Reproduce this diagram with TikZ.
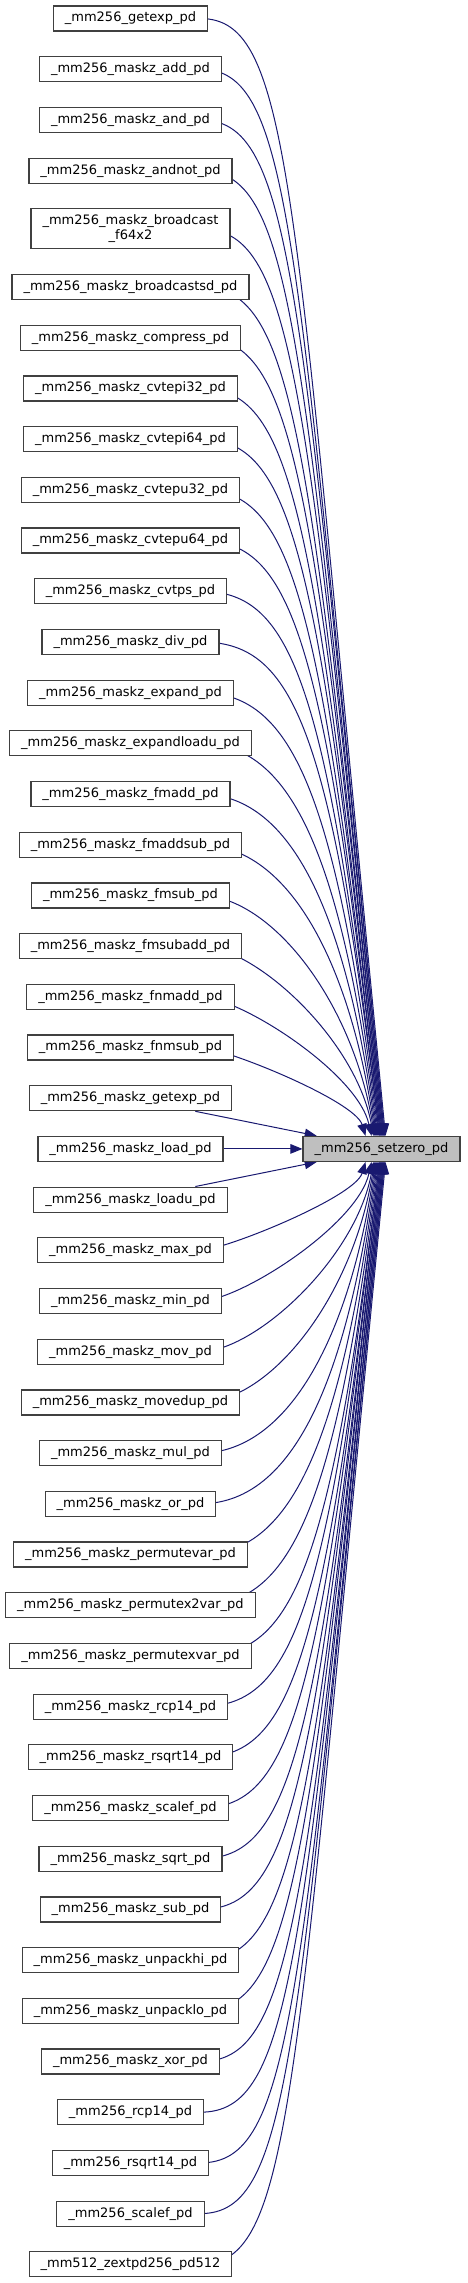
\documentclass[tikz,border=0pt]{standalone}
\usepackage{fontspec}
\setmainfont{DejaVu Sans}
\usetikzlibrary{arrows.meta, positioning, calc, backgrounds}
\definecolor{EdgeNavy}{RGB}{25, 25, 112}
\definecolor{BoxBorder}{RGB}{64, 64, 64}
\definecolor{RootFill}{RGB}{191, 191, 191}
\tikzset{
  fnbox/.style={draw=BoxBorder, fill=white, line width=1.2pt, minimum height=25pt,
    inner xsep=11.5pt, inner ysep=4pt, align=center, font=\fontsize{13}{14.5}\selectfont},
  rootbox/.style={fnbox, fill=RootFill},
  callarrow/.style={draw=EdgeNavy, line width=1pt, -{Triangle[length=12pt,width=9.5pt]}},
}

\begin{document}
\begin{tikzpicture}[x=1pt, y=-1pt, node distance=24.5pt]
  \useasboundingbox (0,0) rectangle (467,2283);
  % callers, top to bottom
  \node[fnbox] (getexp) at (130.5,18.5) {\_mm256\_getexp\_pd};
  \node[fnbox, below=of getexp] (mzadd) {\_mm256\_maskz\_add\_pd};
  \node[fnbox, below=of mzadd] (mzand) {\_mm256\_maskz\_and\_pd};
  \node[fnbox, below=of mzand] (mzandnot) {\_mm256\_maskz\_andnot\_pd};
  \node[fnbox, below=of mzandnot, minimum height=40pt] (mzbcastf) {\_mm256\_maskz\_broadcast\\\_f64x2};
  \node[fnbox, below=of mzbcastf] (mzbcastsd) {\_mm256\_maskz\_broadcastsd\_pd};
  \node[fnbox, below=of mzbcastsd] (mzcompress) {\_mm256\_maskz\_compress\_pd};
  \node[fnbox, below=of mzcompress] (mzcvtepi32) {\_mm256\_maskz\_cvtepi32\_pd};
  \node[fnbox, below=of mzcvtepi32] (mzcvtepi64) {\_mm256\_maskz\_cvtepi64\_pd};
  \node[fnbox, below=of mzcvtepi64] (mzcvtepu32) {\_mm256\_maskz\_cvtepu32\_pd};
  \node[fnbox, below=of mzcvtepu32] (mzcvtepu64) {\_mm256\_maskz\_cvtepu64\_pd};
  \node[fnbox, below=of mzcvtepu64] (mzcvtps) {\_mm256\_maskz\_cvtps\_pd};
  \node[fnbox, below=of mzcvtps] (mzdiv) {\_mm256\_maskz\_div\_pd};
  \node[fnbox, below=of mzdiv] (mzexpand) {\_mm256\_maskz\_expand\_pd};
  \node[fnbox, below=of mzexpand] (mzexpandloadu) {\_mm256\_maskz\_expandloadu\_pd};
  \node[fnbox, below=of mzexpandloadu] (mzfmadd) {\_mm256\_maskz\_fmadd\_pd};
  \node[fnbox, below=of mzfmadd] (mzfmaddsub) {\_mm256\_maskz\_fmaddsub\_pd};
  \node[fnbox, below=of mzfmaddsub] (mzfmsub) {\_mm256\_maskz\_fmsub\_pd};
  \node[fnbox, below=of mzfmsub] (mzfmsubadd) {\_mm256\_maskz\_fmsubadd\_pd};
  \node[fnbox, below=of mzfmsubadd] (mzfnmadd) {\_mm256\_maskz\_fnmadd\_pd};
  \node[fnbox, below=of mzfnmadd] (mzfnmsub) {\_mm256\_maskz\_fnmsub\_pd};
  \node[fnbox, below=of mzfnmsub] (mzgetexp) {\_mm256\_maskz\_getexp\_pd};
  \node[fnbox, below=of mzgetexp] (mzload) {\_mm256\_maskz\_load\_pd};
  \node[fnbox, below=of mzload] (mzloadu) {\_mm256\_maskz\_loadu\_pd};
  \node[fnbox, below=of mzloadu] (mzmax) {\_mm256\_maskz\_max\_pd};
  \node[fnbox, below=of mzmax] (mzmin) {\_mm256\_maskz\_min\_pd};
  \node[fnbox, below=of mzmin] (mzmov) {\_mm256\_maskz\_mov\_pd};
  \node[fnbox, below=of mzmov] (mzmovedup) {\_mm256\_maskz\_movedup\_pd};
  \node[fnbox, below=of mzmovedup] (mzmul) {\_mm256\_maskz\_mul\_pd};
  \node[fnbox, below=of mzmul] (mzor) {\_mm256\_maskz\_or\_pd};
  \node[fnbox, below=of mzor] (mzpermutevar) {\_mm256\_maskz\_permutevar\_pd};
  \node[fnbox, below=of mzpermutevar] (mzpermutex2var) {\_mm256\_maskz\_permutex2var\_pd};
  \node[fnbox, below=of mzpermutex2var] (mzpermutexvar) {\_mm256\_maskz\_permutexvar\_pd};
  \node[fnbox, below=of mzpermutexvar] (mzrcp14) {\_mm256\_maskz\_rcp14\_pd};
  \node[fnbox, below=of mzrcp14] (mzrsqrt14) {\_mm256\_maskz\_rsqrt14\_pd};
  \node[fnbox, below=of mzrsqrt14] (mzscalef) {\_mm256\_maskz\_scalef\_pd};
  \node[fnbox, below=of mzscalef] (mzsqrt) {\_mm256\_maskz\_sqrt\_pd};
  \node[fnbox, below=of mzsqrt] (mzsub) {\_mm256\_maskz\_sub\_pd};
  \node[fnbox, below=of mzsub] (mzunpackhi) {\_mm256\_maskz\_unpackhi\_pd};
  \node[fnbox, below=of mzunpackhi] (mzunpacklo) {\_mm256\_maskz\_unpacklo\_pd};
  \node[fnbox, below=of mzunpacklo] (mzxor) {\_mm256\_maskz\_xor\_pd};
  \node[fnbox, below=of mzxor] (rcp14) {\_mm256\_rcp14\_pd};
  \node[fnbox, below=of rcp14] (rsqrt14) {\_mm256\_rsqrt14\_pd};
  \node[fnbox, below=of rsqrt14] (scalef) {\_mm256\_scalef\_pd};
  \node[fnbox, below=of scalef] (zextpd) {\_mm512\_zextpd256\_pd512};
  % callee
  \node[rootbox, right=78.8pt of mzload] (setzero) {\_mm256\_setzero\_pd};
  % call edges, kept behind the boxes
  \begin{scope}[on background layer]
    \foreach \src/\tip/\sd in {getexp/4/north, mzadd/3/north, mzand/3/north, mzandnot/2/north,
        mzbcastf/2/north, mzbcastsd/1/north, mzcompress/1/north, mzcvtepi32/0/north,
        mzcvtepi64/0/north, mzcvtepu32/-1/north, mzcvtepu64/-1/north, mzcvtps/-2/north,
        mzdiv/-2/north, mzexpand/-3/north, mzexpandloadu/-4/north, mzfmadd/-5/north,
        mzfmaddsub/-6/north, mzfmsub/-7/north, mzfmsubadd/-8/north, mzfnmadd/-10/north,
        mzfnmsub/-16/north,
        mzmax/-16/south, mzmin/-10/south, mzmov/-8/south, mzmovedup/-7/south, mzmul/-6/south,
        mzor/-5/south, mzpermutevar/-4/south, mzpermutex2var/-3/south, mzpermutexvar/-2/south,
        mzrcp14/-2/south, mzrsqrt14/-1/south, mzscalef/-1/south, mzsqrt/0/south, mzsub/0/south,
        mzunpackhi/1/south, mzunpacklo/1/south, mzxor/2/south, rcp14/2/south,
        rsqrt14/3/south, scalef/3/south, zextpd/4/south}
      \draw[callarrow] let \p1=(\src.center), \p2=([xshift=\tip pt]setzero.\sd),
          \n1={\x2-200pt}, \n2={abs(\y1-(\y2))}, \n3={(\y1-(\y2))/\n2},
          \n4={\n1*min(0.5,\n2/600)}, \n5={\n2*min(0.85,0.3+\n2/900)},
          \n6={0.08*\n5+20*(\n5/\n2)} in
        (\p1) -- (200pt,\y1) .. controls ({200pt+\n4},\y1) and ({\x2-\n6},{\y2+(\n3)*(\n5)}) .. (\p2);
    \draw[callarrow] (mzgetexp) -- (setzero);
    \draw[callarrow] (mzload) -- (setzero);
    \draw[callarrow] (mzloadu) -- (setzero);
  \end{scope}
\end{tikzpicture}
\end{document}
